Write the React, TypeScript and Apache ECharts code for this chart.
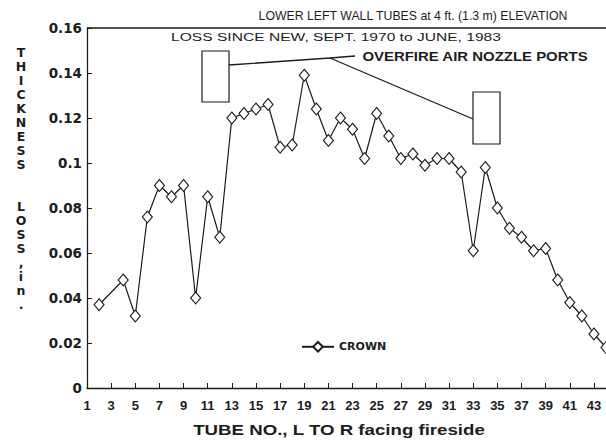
import React, { useEffect, useRef } from "react";
import * as echarts from "echarts";

const tubes = [2, 4, 5, 6, 7, 8, 9, 10, 11, 12, 13, 14, 15, 16, 17, 18, 19, 20, 21, 22, 23, 24, 25, 26, 27, 28, 29, 30, 31, 32, 33, 34, 35, 36, 37, 38, 39, 40, 41, 42, 43, 44];
const crownLoss = [0.037, 0.048, 0.032, 0.076, 0.09, 0.085, 0.09, 0.04, 0.085, 0.067, 0.12, 0.122, 0.124, 0.126, 0.107, 0.108, 0.139, 0.124, 0.11, 0.12, 0.115, 0.102, 0.122, 0.112, 0.102, 0.104, 0.099, 0.102, 0.102, 0.096, 0.061, 0.098, 0.08, 0.071, 0.067, 0.061, 0.062, 0.048, 0.038, 0.032, 0.024, 0.018];

const titleText = "LOWER LEFT WALL TUBES at 4 ft. (1.3 m) ELEVATION";
const subtitleText = "LOSS SINCE NEW, SEPT. 1970 to JUNE, 1983";
const annotationText = "OVERFIRE AIR NOZZLE PORTS";
const yAxisTitleWords = ["THICKNESS", "LOSS,", "in."];
const xAxisTitle = "TUBE NO., L TO R facing fireside";
const seriesName = "CROWN";

const INK = "#1c1c1c";
const BOLD = "'Liberation Sans', Arial, sans-serif";
const WIDE = "'DejaVu Sans', sans-serif";

function measure(text: string, font: string): number {
  const c = document.createElement("canvas").getContext("2d");
  if (!c) return 1;
  c.font = font;
  return c.measureText(text).width || 1;
}

function fittedText(text: string, cx: number, cy: number, size: number, weight: string, family: string, targetWidth: number) {
  const w = measure(text, `${weight} ${size}px ${family}`);
  return {
    type: "text",
    x: cx,
    y: cy,
    scaleX: targetWidth / w,
    style: {
      text,
      x: 0,
      y: 0,
      align: "center",
      verticalAlign: "middle",
      fill: INK,
      fontFamily: family,
      fontWeight: weight,
      fontSize: size,
    },
  };
}

export default function App() {
  const ref = useRef<HTMLDivElement>(null);
  useEffect(() => {
    if (!ref.current) return;
    const chart = echarts.init(ref.current, null, { renderer: "svg" });
    const yChars = [
      ...yAxisTitleWords[0].split(""),
      "",
      "",
      ...yAxisTitleWords[1].split(""),
      ...yAxisTitleWords[2].split(""),
    ].join("\n");
    chart.setOption({
      animation: false,
      backgroundColor: "#ffffff",
      grid: { left: 87, right: -1, top: 28, bottom: 56, containLabel: false },
      xAxis: {
        type: "value",
        min: 1,
        max: 44,
        interval: 2,
        axisLine: { show: true, lineStyle: { color: INK, width: 1.3 } },
        axisTick: { show: true, inside: true, length: 5, lineStyle: { color: INK, width: 1 } },
        splitLine: { show: false },
        axisLabel: {
          showMaxLabel: false,
          color: INK,
          fontFamily: BOLD,
          fontWeight: "bold",
          fontSize: 13,
          margin: 11,
        },
      },
      yAxis: {
        type: "value",
        min: 0,
        max: 0.16,
        interval: 0.02,
        axisLine: { show: true, lineStyle: { color: INK, width: 1.3 } },
        axisTick: { show: true, inside: true, length: 5, lineStyle: { color: INK, width: 1 } },
        splitLine: { show: false },
        axisLabel: {
          color: INK,
          fontFamily: WIDE,
          fontWeight: "bold",
          fontSize: 13.5,
          margin: 5,
          formatter: (v: number) => String(+v.toFixed(2)),
        },
      },
      legend: {
        left: 296,
        top: 336,
        itemWidth: 32,
        itemHeight: 12,
        itemGap: 4,
        textStyle: { color: INK, fontFamily: WIDE, fontWeight: "bold", fontSize: 11 },
        data: [seriesName],
      },
      series: [
        {
          name: seriesName,
          type: "line",
          data: tubes.map((t, i) => [t, crownLoss[i]]),
          symbol: "diamond",
          symbolSize: [10, 12],
          showAllSymbol: true,
          lineStyle: { color: INK, width: 1.2 },
          itemStyle: { color: "#ffffff", borderColor: INK, borderWidth: 1.1 },
          clip: false,
        },
      ],
      graphic: [
        { type: "line", shape: { x1: 87, y1: 28, x2: 606, y2: 28 }, style: { stroke: INK, lineWidth: 1.3 } },
        fittedText(titleText, 413, 15.5, 12.5, "normal", BOLD, 310),
        fittedText(subtitleText, 336, 37.5, 11.5, "normal", BOLD, 330),
        fittedText(annotationText, 475, 57.5, 12, "900", BOLD, 226),
        { type: "rect", shape: { x: 202, y: 51, width: 27, height: 51 }, style: { fill: "#fff", stroke: INK, lineWidth: 1.2 } },
        { type: "rect", shape: { x: 473, y: 92, width: 27, height: 52 }, style: { fill: "#fff", stroke: INK, lineWidth: 1.2 } },
        { type: "polyline", shape: { points: [[229, 65], [330, 58], [355, 56]] }, style: { fill: "none", stroke: INK, lineWidth: 1.3 } },
        { type: "line", shape: { x1: 330, y1: 58, x2: 473, y2: 119 }, style: { stroke: INK, lineWidth: 1.3 } },
        {
          type: "text", x: 21, y: 45,
          style: { text: yChars, x: 0, y: 0, fill: INK, fontFamily: WIDE, fontWeight: "bold", fontSize: 12.5, lineHeight: 14, align: "center" },
        },
        fittedText(xAxisTitle, 339, 430, 14.5, "bold", BOLD, 292),
      ],
    });
    return () => chart.dispose();
  }, []);
  return (
    <div
      ref={ref}
      style={{ position: "fixed", left: 0, top: 0, width: 606, height: 444, background: "#fff" }}
    />
  );
}
